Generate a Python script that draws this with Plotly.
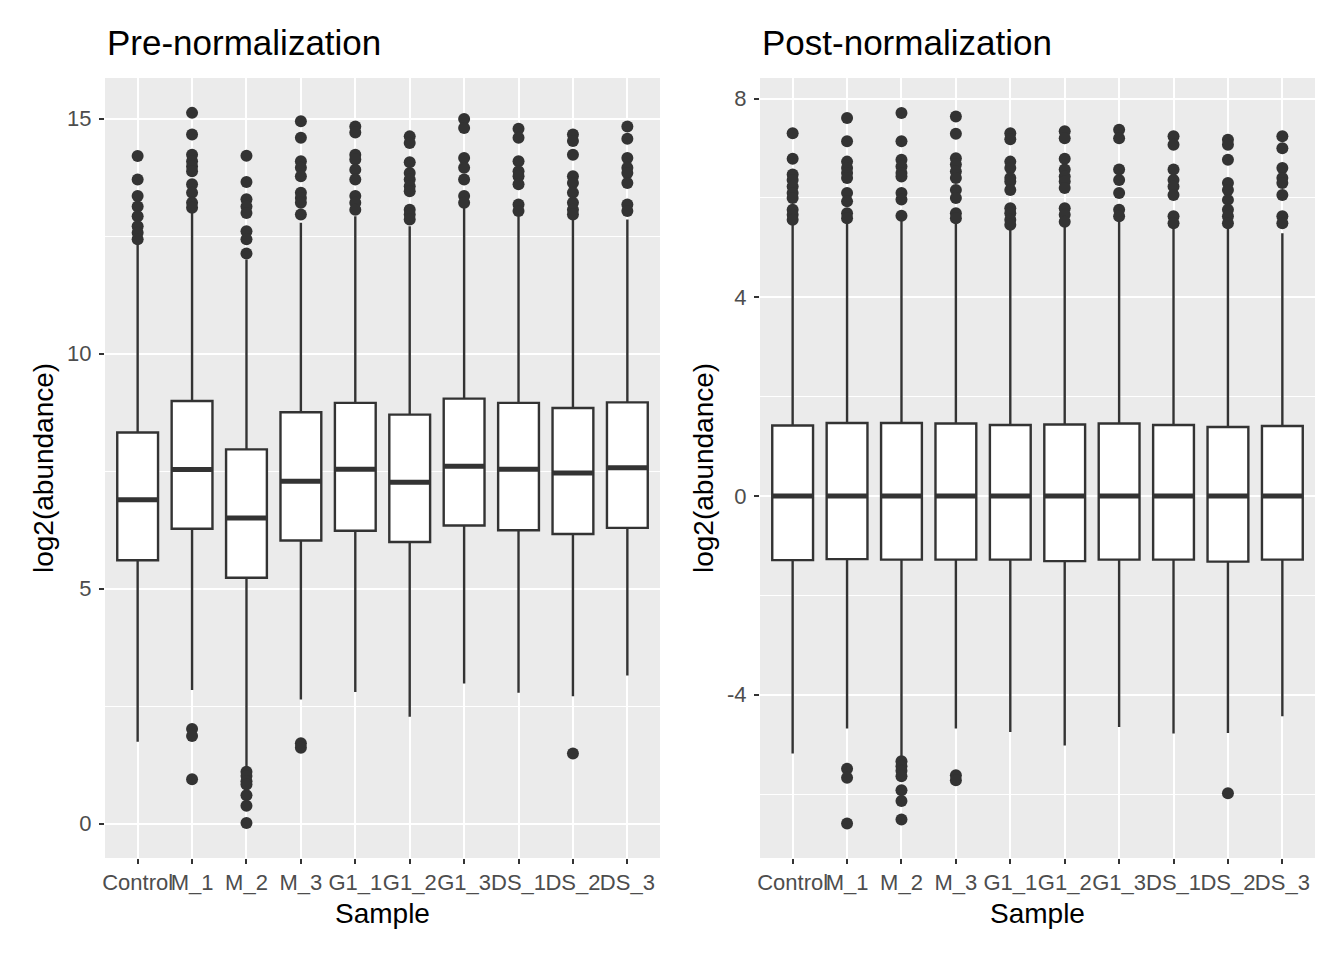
import plotly.graph_objects as go

# page body has an 8px margin, so draw a slightly smaller figure and place by page pixels
PAGE_W, PAGE_H, OFF = 1344, 960, 8
W, H = PAGE_W - OFF, PAGE_H - OFF

samples = ["Control", "M_1", "M_2", "M_3", "G1_1", "G1_2", "G1_3", "DS_1", "DS_2", "DS_3"]

# pre-normalization box stats (log2 abundance)
pre_q1 = [5.60, 6.27, 5.23, 6.02, 6.23, 5.99, 6.34, 6.24, 6.16, 6.29]
pre_med = [6.89, 7.53, 6.50, 7.28, 7.54, 7.26, 7.60, 7.54, 7.46, 7.57]
pre_q3 = [8.32, 8.99, 7.96, 8.75, 8.95, 8.70, 9.04, 8.95, 8.84, 8.96]
pre_lo = [1.74, 2.84, 1.18, 2.64, 2.80, 2.27, 2.98, 2.78, 2.71, 3.15]
pre_hi = [12.36, 12.99, 12.00, 12.78, 12.92, 12.71, 13.10, 12.92, 12.85, 12.85]
pre_out = [
    [14.20, 13.70, 13.35, 13.13, 12.92, 12.71, 12.57, 12.43],
    [15.12, 14.66, 14.23, 14.09, 13.98, 13.88, 13.60, 13.42, 13.21, 13.10, 2.01, 1.86, 0.94],
    [14.21, 13.65, 13.28, 13.13, 12.99, 12.60, 12.43, 12.13, 1.10, 1.01, 0.90, 0.83, 0.60, 0.38, 0.01],
    [14.94, 14.59, 14.09, 13.95, 13.77, 13.42, 13.31, 13.21, 12.96, 1.71, 1.61],
    [14.83, 14.70, 14.23, 14.13, 13.91, 13.70, 13.35, 13.21, 13.06],
    [14.62, 14.48, 14.07, 13.84, 13.70, 13.56, 13.45, 13.06, 12.96, 12.85],
    [14.99, 14.80, 14.16, 13.95, 13.70, 13.35, 13.21],
    [14.78, 14.59, 14.09, 13.88, 13.77, 13.60, 13.17, 13.03],
    [14.66, 14.52, 14.23, 13.77, 13.63, 13.42, 13.21, 13.06, 12.96, 1.49],
    [14.83, 14.57, 14.16, 13.95, 13.84, 13.63, 13.17, 13.03],
]
pre_ticks = [0, 5, 10, 15]

# post-normalization box stats
post_q1 = [-1.29, -1.27, -1.28, -1.28, -1.28, -1.31, -1.28, -1.28, -1.32, -1.28]
post_med = [0.0, 0.0, 0.0, 0.0, 0.0, 0.0, 0.0, 0.0, 0.0, 0.0]
post_q3 = [1.42, 1.47, 1.47, 1.46, 1.43, 1.44, 1.46, 1.43, 1.39, 1.41]
post_lo = [-5.18, -4.68, -5.26, -4.68, -4.75, -5.02, -4.65, -4.78, -4.77, -4.43]
post_hi = [5.49, 5.56, 5.56, 5.56, 5.42, 5.49, 5.56, 5.42, 5.42, 5.29]
post_out = [
    [7.30, 6.79, 6.47, 6.36, 6.23, 6.10, 6.00, 5.76, 5.66, 5.56],
    [7.61, 7.14, 6.73, 6.60, 6.50, 6.40, 6.10, 5.93, 5.69, 5.59, -5.49, -5.67, -6.59],
    [7.71, 7.14, 6.77, 6.63, 6.50, 6.43, 6.10, 5.97, 5.64, -5.34, -5.44, -5.53, -5.64, -5.92, -6.14, -6.51],
    [7.64, 7.29, 6.80, 6.67, 6.53, 6.40, 6.16, 6.00, 5.69, 5.59, -5.62, -5.72],
    [7.30, 7.18, 6.73, 6.60, 6.40, 6.33, 6.16, 5.79, 5.69, 5.56, 5.46],
    [7.34, 7.20, 6.79, 6.57, 6.43, 6.33, 6.20, 5.79, 5.66, 5.52],
    [7.37, 7.20, 6.57, 6.36, 6.10, 5.76, 5.63],
    [7.24, 7.07, 6.57, 6.36, 6.23, 6.06, 5.63, 5.49],
    [7.17, 7.07, 6.77, 6.30, 6.16, 5.96, 5.76, 5.63, 5.49, -5.98],
    [7.24, 7.00, 6.60, 6.40, 6.30, 6.06, 5.63, 5.49],
]
post_ticks = [-4, 0, 4, 8]

DARK = "#333333"
FONT = "Liberation Sans, Arial, sans-serif"


def px(x):
    return (x - OFF) / W


def py(y):
    return 1 - (y - OFF) / H


def add_panel(fig, q1, med, q3, lo, hi, out, xa, ya):
    fig.add_trace(go.Box(
        x=samples, q1=q1, median=med, q3=q3, lowerfence=lo, upperfence=hi,
        boxpoints=False, whiskerwidth=0, fillcolor="white", width=0.75,
        line=dict(color=DARK, width=2.4), xaxis=xa, yaxis=ya,
        showlegend=False, hoverinfo="skip",
    ))
    # thick median bar like ggplot (fatten = 2)
    fig.add_trace(go.Box(
        x=samples, q1=med, median=med, q3=med, lowerfence=med, upperfence=med,
        boxpoints=False, whiskerwidth=0, fillcolor="rgba(0,0,0,0)", width=0.75,
        line=dict(color=DARK, width=5), xaxis=xa, yaxis=ya,
        showlegend=False, hoverinfo="skip",
    ))
    ox, oy = [], []
    for s, vals in zip(samples, out):
        ox += [s] * len(vals)
        oy += vals
    fig.add_trace(go.Scatter(
        x=ox, y=oy, mode="markers", xaxis=xa, yaxis=ya,
        marker=dict(color=DARK, size=12, line=dict(width=0)),
        showlegend=False, hoverinfo="skip",
    ))


fig = go.Figure()
add_panel(fig, pre_q1, pre_med, pre_q3, pre_lo, pre_hi, pre_out, "x", "y")
add_panel(fig, post_q1, post_med, post_q3, post_lo, post_hi, post_out, "x2", "y2")

ydom = [py(858), py(78)]
xcommon = dict(
    type="category", range=[-0.6, 9.6], showgrid=True, gridcolor="white", gridwidth=2.2,
    ticks="outside", ticklen=5, tickwidth=2.2, tickcolor=DARK, showline=False, zeroline=False,
    tickangle=0, automargin=False, ticklabelstandoff=0,
    tickfont=dict(family=FONT, size=22, color="#4D4D4D"), fixedrange=True,
)
ycommon = dict(
    showgrid=True, gridcolor="white", gridwidth=2.2, zeroline=False, showline=False,
    ticks="outside", ticklen=5, tickwidth=2.2, tickcolor=DARK, ticklabelstandoff=3,
    automargin=False,
    tickfont=dict(family=FONT, size=22, color="#4D4D4D"), fixedrange=True,
)

fig.update_layout(
    width=W, height=H, paper_bgcolor="white", plot_bgcolor="#EBEBEB",
    margin=dict(l=0, r=0, t=0, b=0), boxmode="overlay", boxgap=0, boxgroupgap=0,
    font=dict(family=FONT, color="black"),
    xaxis=dict(domain=[px(105), px(660)], anchor="y", **xcommon),
    xaxis2=dict(domain=[px(760), px(1315)], anchor="y2", **xcommon),
    yaxis=dict(domain=ydom, anchor="x", range=[-0.734, 15.862],
               tickvals=pre_ticks, ticktext=[str(t) for t in pre_ticks],
               minor=dict(dtick=2.5, tick0=0, showgrid=True, gridcolor="white", gridwidth=1.1, ticks=""),
               **ycommon),
    yaxis2=dict(domain=ydom, anchor="x2", range=[-7.285, 8.413],
                tickvals=post_ticks, ticktext=[str(t) for t in post_ticks],
                minor=dict(dtick=2, tick0=0, showgrid=True, gridcolor="white", gridwidth=1.1, ticks=""),
                **ycommon),
)

annos = [
    dict(text="Pre-normalization", x=105, y=43, xanchor="left", size=35),
    dict(text="Post-normalization", x=760, y=43, xanchor="left", size=35),
    dict(text="Sample", x=382.5, y=913, xanchor="center", size=28),
    dict(text="Sample", x=1037.5, y=913, xanchor="center", size=28),
    dict(text="log2(abundance)", x=43, y=468, xanchor="center", size=28, angle=-90),
    dict(text="log2(abundance)", x=703, y=468, xanchor="center", size=28, angle=-90),
]
for a in annos:
    fig.add_annotation(
        text=a["text"], x=px(a["x"]), y=py(a["y"]), xref="paper", yref="paper",
        xanchor=a["xanchor"], yanchor="middle", showarrow=False,
        textangle=a.get("angle", 0), font=dict(family=FONT, size=a["size"], color="black"),
    )

fig.write_html("out.html")
